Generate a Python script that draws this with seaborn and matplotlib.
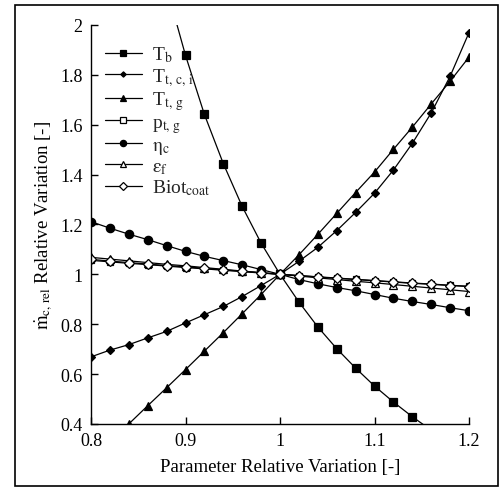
import numpy as np
import pandas as pd
import seaborn as sns
import matplotlib
matplotlib.use("Agg")
import matplotlib.pyplot as plt
from matplotlib.patches import Rectangle

# ---- data ----
x_vals = [0.80, 0.82, 0.84, 0.86, 0.88, 0.90, 0.92, 0.94, 0.96, 0.98, 1.00,
          1.02, 1.04, 1.06, 1.08, 1.10, 1.12, 1.14, 1.16, 1.18, 1.20]

T_b = [3.77, 3.27, 2.84, 2.47, 2.15, 1.878, 1.641, 1.444, 1.272, 1.125, 1.0,
       0.889, 0.789, 0.702, 0.624, 0.552, 0.488, 0.429, 0.375, 0.325, 0.28]
T_tci = [0.669, 0.696, 0.718, 0.745, 0.771, 0.805, 0.838, 0.871, 0.911, 0.955, 1.0,
         1.052, 1.108, 1.175, 1.248, 1.325, 1.418, 1.525, 1.647, 1.794, 1.969]
T_tg = [0.255, 0.327, 0.40, 0.473, 0.545, 0.618, 0.692, 0.766, 0.842, 0.919, 1.0,
        1.078, 1.160, 1.244, 1.328, 1.410, 1.501, 1.590, 1.683, 1.774, 1.871]
p_tg = [1.056, 1.050, 1.044, 1.039, 1.033, 1.027, 1.022, 1.016, 1.011, 1.005, 1.0,
        0.995, 0.990, 0.985, 0.980, 0.975, 0.970, 0.965, 0.961, 0.956, 0.952]
eta_c = [1.211, 1.185, 1.161, 1.139, 1.115, 1.092, 1.072, 1.055, 1.038, 1.019, 1.0,
         0.979, 0.962, 0.947, 0.934, 0.919, 0.904, 0.891, 0.879, 0.866, 0.854]
eps_f = [1.068, 1.061, 1.054, 1.047, 1.040, 1.034, 1.027, 1.020, 1.013, 1.007, 1.0,
         0.993, 0.986, 0.979, 0.972, 0.966, 0.959, 0.952, 0.945, 0.938, 0.931]
Biot = [1.060, 1.053, 1.047, 1.041, 1.035, 1.030, 1.024, 1.018, 1.012, 1.006, 1.0,
        0.995, 0.989, 0.984, 0.979, 0.974, 0.969, 0.964, 0.960, 0.955, 0.951]

labels = [r'T$_{\mathrm{b}}$', r'T$_{\mathrm{t,\,c,\,i}}$', r'T$_{\mathrm{t,\,g}}$',
          r'p$_{\mathrm{t,\,g}}$', r'$\mathrm{\eta}_{\mathrm{c}}$', r'$\mathrm{\varepsilon}_{\mathrm{f}}$',
          r'Biot$_{\mathrm{coat}}$']
series = [T_b, T_tci, T_tg, p_tg, eta_c, eps_f, Biot]
markers = ['s', 'D', '^', 's', 'o', '^', 'D']
msizes = [6, 3.6, 5.8, 5, 6, 5.8, 5]
mfaces = ['black', 'black', 'black', 'white', 'black', 'white', 'white']

df = pd.DataFrame({'x': np.tile(x_vals, len(series)),
                   'y': np.concatenate(series),
                   's': np.repeat(labels, len(x_vals))})

sns.set_theme(style="ticks")
plt.rcParams['font.family'] = ['Liberation Serif', 'DejaVu Serif']
plt.rcParams['mathtext.fontset'] = 'stix'

fig = plt.figure(figsize=(5.0, 4.89), dpi=100)
ax = fig.add_axes([0.182, 0.131, 0.756, 0.816])

for lab, mk, ms, mf in zip(labels, markers, msizes, mfaces):
    sub = df[df['s'] == lab]
    sns.lineplot(data=sub, x='x', y='y', ax=ax, color='black', lw=0.9,
                 marker=mk, markersize=ms, markerfacecolor=mf,
                 markeredgecolor='black', markeredgewidth=0.9, label=lab,
                 clip_on=True)

ax.set_xlim(0.8, 1.2)
ax.set_ylim(0.4, 2.0)
ax.set_xticks([0.8, 0.9, 1.0, 1.1, 1.2])
ax.set_xticklabels(['0.8', '0.9', '1', '1.1', '1.2'])
ax.set_yticks([0.4, 0.6, 0.8, 1.0, 1.2, 1.4, 1.6, 1.8, 2.0])
ax.set_yticklabels(['0.4', '0.6', '0.8', '1', '1.2', '1.4', '1.6', '1.8', '2'])
ax.tick_params(direction='in', length=5, width=1, labelsize=13, colors='black', pad=6)
for s in ['top', 'right']:
    ax.spines[s].set_visible(False)
for s in ['left', 'bottom']:
    ax.spines[s].set_color('black')
    ax.spines[s].set_linewidth(1.0)

ax.set_xlabel('Parameter Relative Variation [-]', fontsize=13.5, color='black', labelpad=6)
ax.set_ylabel(r'$\dot{\mathrm{m}}_{\mathrm{c,\,rel}}$ Relative Variation [-]', fontsize=13.5,
              color='black', labelpad=4)

leg = ax.legend(loc='upper left', bbox_to_anchor=(0.0, 0.985), frameon=False, fontsize=14,
                handlelength=1.9, handletextpad=0.55, labelspacing=0.08, borderaxespad=0.3)
for h in leg.legend_handles:
    h.set_markersize(h.get_markersize() * 0.75)

fig.patches.append(Rectangle((0.03, 0.004), 0.966, 0.984, transform=fig.transFigure,
                             fill=False, edgecolor='black', lw=1.2))

fig.savefig('out.png', dpi=100)
